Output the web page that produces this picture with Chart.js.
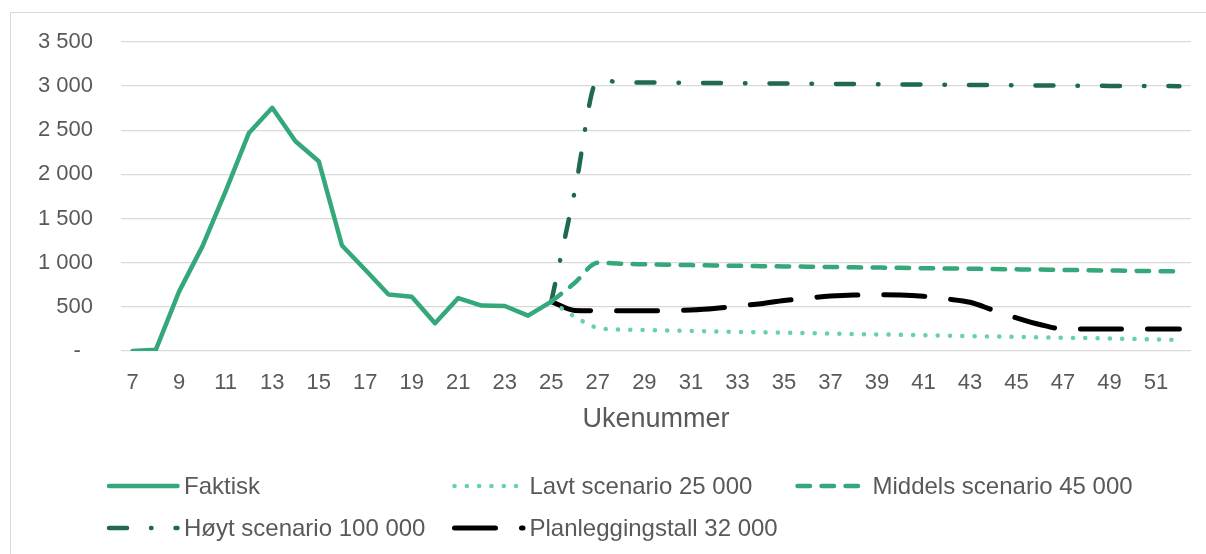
<!DOCTYPE html>
<html>
<head>
<meta charset="utf-8">
<script src="https://cdn.jsdelivr.net/npm/chart.js@4"></script>
<style>
  html, body { margin: 0; padding: 0; background: #fff; }
  #wrap { position: relative; width: 1206px; height: 554px; overflow: hidden; }
  #frame { position: absolute; left: 10px; top: 12px; width: 1220px; height: 600px; border: 1.3px solid #d9d9d9; box-sizing: border-box; }
  canvas { position: absolute; left: 0; top: 0; }
</style>
</head>
<body>
<div id="wrap">
  <div id="frame"></div>
  <canvas id="chart" width="1206" height="554"></canvas>
</div>
<script>
// Ukenummer (x-akse)
const uker = [7, 8, 9, 10, 11, 12, 13, 14, 15, 16, 17, 18, 19, 20, 21, 22, 23, 24, 25, 26,
  27, 28, 29, 30, 31, 32, 33, 34, 35, 36, 37, 38, 39, 40, 41, 42, 43, 44, 45, 46,
  47, 48, 49, 50, 51, 52];

// Faktisk, uke 7-25
const faktisk = [0, 15, 675, 1185, 1810, 2470, 2755, 2375, 2150, 1195, 920, 640, 615, 315, 600, 515, 510, 400, 560];

// Scenarier, uke 25-52
const lavt = [560, 390, 262, 243, 238, 233, 228, 222, 217, 212, 207, 202, 197, 192, 188, 183, 178, 174,
  169, 164, 160, 155, 150, 146, 141, 136, 131, 127];
const middels = [560, 770, 1000, 988, 982, 977, 973, 969, 965, 961, 958, 955, 952, 948, 945, 942, 938, 935,
  932, 928, 925, 922, 918, 915, 912, 908, 905, 902];
const hoyt = [560, 1800, 3070, 3045, 3042, 3040, 3038, 3036, 3034, 3032, 3030, 3028, 3026, 3024, 3022, 3020,
  3018, 3016, 3014, 3012, 3010, 3008, 3006, 3004, 3003, 3002, 3001, 3000];
const planlegging = [560, 460, 455, 455, 455, 456, 465, 482, 510, 535, 572, 600, 622, 634, 636, 634, 620, 590,
  552, 462, 375, 300, 250, 248, 248, 248, 248, 248];

const yTicks = [0, 500, 1000, 1500, 2000, 2500, 3000, 3500];

const FONT = "'Liberation Sans', Arial, sans-serif";
const TEXT = '#595959';

// Fyll ut med null slik at seriene starter på riktig uke
function plasser(verdier, startUke) {
  return uker.map(u => {
    const i = u - startUke;
    return i >= 0 && i < verdier.length ? verdier[i] : null;
  });
}

function tall(v) {
  if (v === 0) return '-\u00a0\u00a0';
  return String(v).replace(/\B(?=(\d{3})+(?!\d))/g, '\u00a0');
}

// Legende tegnet i rutenett som i Excel
const legendePlugin = {
  id: 'rutenettLegende',
  afterDraw(chart) {
    const ctx = chart.ctx;
    const kol = [109, 454.5, 797.5];
    const rad = [486, 528];
    const plass = [[0, 0], [1, 0], [2, 0], [0, 1], [1, 1]];
    chart.data.datasets.forEach((ds, i) => {
      const x0 = kol[plass[i][0]];
      const y = rad[plass[i][1]];
      ctx.save();
      ctx.strokeStyle = ds.borderColor;
      ctx.lineWidth = ds.borderWidth;
      ctx.lineCap = 'round';
      ctx.setLineDash(ds.borderDash || []);
      ctx.beginPath();
      ctx.moveTo(x0, y);
      ctx.lineTo(x0 + 68.5, y);
      ctx.stroke();
      ctx.setLineDash([]);
      ctx.fillStyle = TEXT;
      ctx.font = '24px ' + FONT;
      ctx.textBaseline = 'middle';
      ctx.textAlign = 'left';
      ctx.fillText(ds.label, x0 + 75, y + 1);
      ctx.restore();
    });
  }
};

const chart = new Chart(document.getElementById('chart').getContext('2d'), {
  type: 'line',
  data: {
    labels: uker,
    datasets: [
      {
        label: 'Faktisk',
        data: plasser(faktisk, 7),
        borderColor: '#34a87a',
        borderWidth: 4.5,
        tension: 0
      },
      {
        label: 'Lavt scenario 25\u00a0000',
        data: plasser(lavt, 25),
        borderColor: '#66d2a6',
        borderWidth: 4.5,
        borderDash: [0.1, 12.2],
        cubicInterpolationMode: 'monotone'
      },
      {
        label: 'Middels scenario 45\u00a0000',
        data: plasser(middels, 25),
        borderColor: '#34a87a',
        borderWidth: 4.5,
        borderDash: [12.5, 11.5],
        cubicInterpolationMode: 'monotone'
      },
      {
        label: 'Høyt scenario 100\u00a0000',
        data: plasser(hoyt, 25),
        borderColor: '#1f6a4e',
        borderWidth: 4.5,
        borderDash: [18, 24, 0.5, 24],
        cubicInterpolationMode: 'monotone'
      },
      {
        label: 'Planleggingstall 32\u00a0000',
        data: plasser(planlegging, 25),
        borderColor: '#000000',
        borderWidth: 5,
        borderDash: [41, 26],
        cubicInterpolationMode: 'monotone'
      }
    ].map(ds => Object.assign({
      pointRadius: 0,
      pointHoverRadius: 0,
      fill: false,
      borderCapStyle: 'round',
      borderJoinStyle: 'round',
      spanGaps: false
    }, ds))
  },
  options: {
    responsive: false,
    devicePixelRatio: 1,
    animation: false,
    layout: { padding: { left: 0, right: 15, top: 42, bottom: 113 } },
    plugins: {
      legend: { display: false },
      tooltip: { enabled: false }
    },
    scales: {
      x: {
        offset: true,
        grid: { display: false, drawTicks: false },
        border: { display: false },
        ticks: {
          autoSkip: false,
          maxRotation: 0,
          padding: 19,
          color: TEXT,
          font: { family: FONT, size: 22 },
          callback: (v, i) => (uker[i] % 2 === 1 ? uker[i] : '')
        },
        title: {
          display: true,
          text: 'Ukenummer',
          color: TEXT,
          font: { family: FONT, size: 27 },
          padding: { top: 0, bottom: 5 }
        },
        afterFit: s => { s.height = 90; }
      },
      y: {
        min: 0,
        max: 3500,
        afterBuildTicks: s => { s.ticks = yTicks.map(v => ({ value: v })); },
        grid: { color: '#d9d9d9', lineWidth: 1.3, drawTicks: false },
        border: { display: false },
        ticks: {
          padding: 28,
          color: TEXT,
          font: { family: FONT, size: 22 },
          callback: v => tall(v)
        },
        afterFit: s => { s.width = 121; }
      }
    }
  },
  plugins: [legendePlugin]
});
</script>
</body>
</html>
